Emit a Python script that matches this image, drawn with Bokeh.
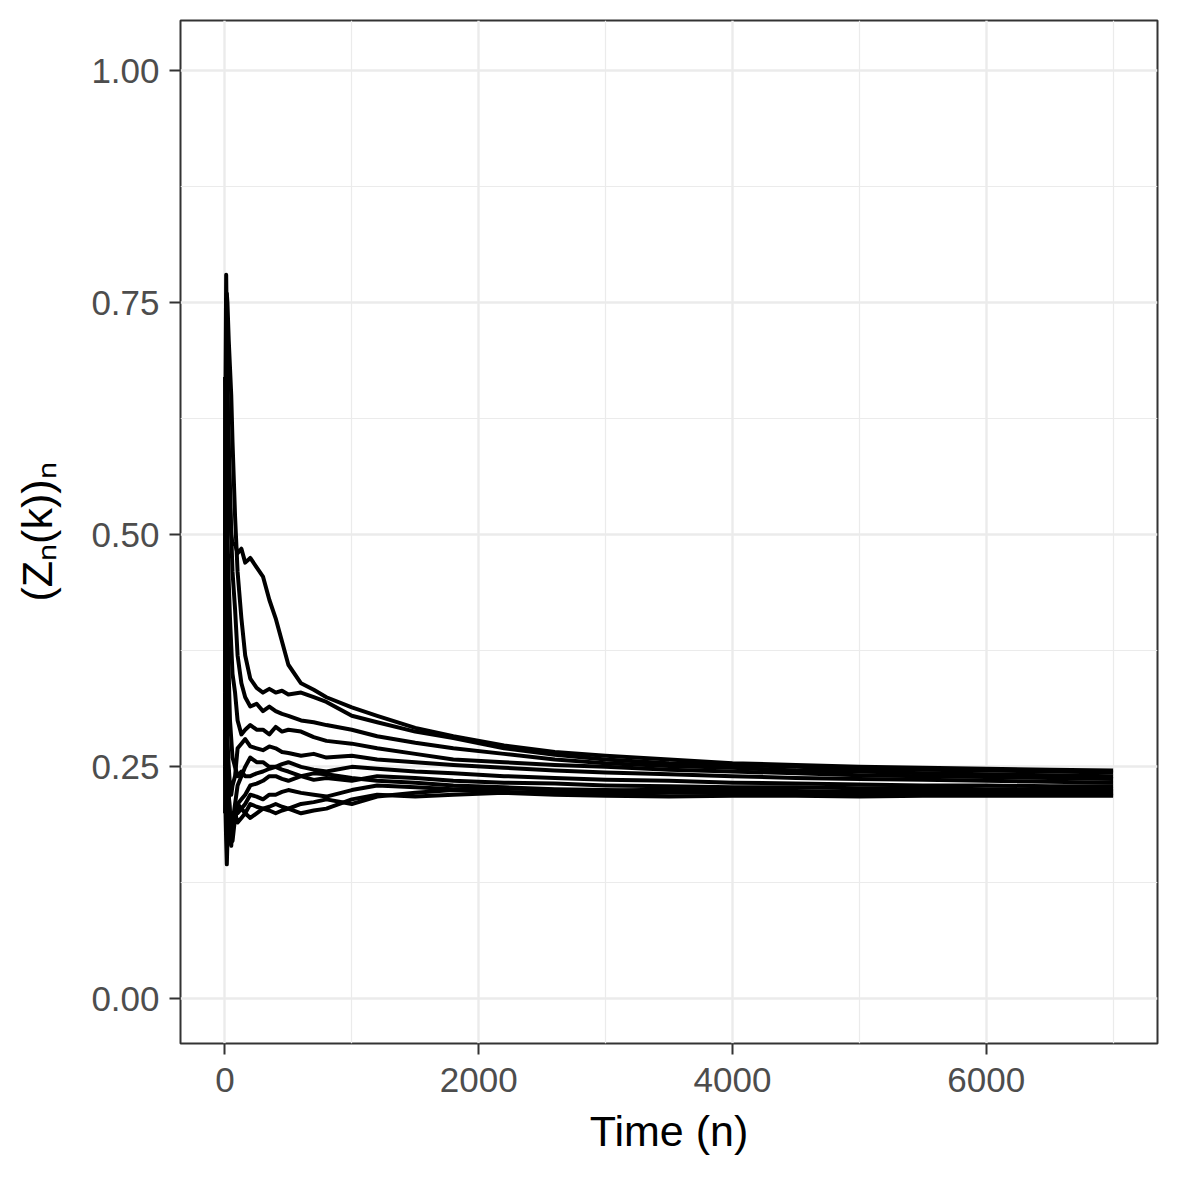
from bokeh.plotting import figure
from bokeh.models import Range1d, FixedTicker, PrintfTickFormatter
from bokeh.embed import file_html
from bokeh.resources import INLINE

# Time points (n)
T = [1, 5, 10, 15, 20, 30, 40, 50, 60, 80, 100, 130, 160, 200, 250, 300, 350, 400, 450, 500,
     600, 700, 800, 1000, 1200, 1500, 1800, 2200, 2600, 3000, 3500, 4000, 4500, 5000, 5500,
     6000, 6500, 7000]

S1 = [0.50, 0.67, 0.78, 0.72, 0.66, 0.58, 0.53, 0.50, 0.49, 0.49, 0.48, 0.485, 0.47, 0.475, 0.465,
      0.455, 0.43, 0.41, 0.385, 0.36, 0.34, 0.333, 0.325, 0.314, 0.305, 0.292, 0.283, 0.273, 0.266,
      0.262, 0.258, 0.254, 0.252, 0.250, 0.249, 0.248, 0.247, 0.246]
S2 = [0.33, 0.60, 0.70, 0.76, 0.75, 0.71, 0.68, 0.65, 0.60, 0.52, 0.46, 0.41, 0.37, 0.345, 0.335,
      0.33, 0.334, 0.33, 0.332, 0.328, 0.33, 0.325, 0.32, 0.305, 0.298, 0.288, 0.281, 0.270, 0.263,
      0.258, 0.254, 0.252, 0.250, 0.248, 0.247, 0.246, 0.245, 0.244]
S3 = [0.50, 0.62, 0.66, 0.70, 0.65, 0.60, 0.55, 0.50, 0.46, 0.42, 0.37, 0.34, 0.325, 0.315, 0.318,
      0.31, 0.315, 0.31, 0.307, 0.305, 0.30, 0.298, 0.295, 0.29, 0.283, 0.276, 0.27, 0.264, 0.258,
      0.254, 0.251, 0.249, 0.246, 0.245, 0.243, 0.242, 0.241, 0.240]
S4 = [0.25, 0.45, 0.60, 0.55, 0.50, 0.45, 0.41, 0.38, 0.35, 0.33, 0.30, 0.285, 0.29, 0.295, 0.29,
      0.29, 0.285, 0.293, 0.288, 0.29, 0.288, 0.282, 0.278, 0.275, 0.27, 0.264, 0.258, 0.255, 0.252,
      0.25, 0.247, 0.245, 0.243, 0.241, 0.240, 0.239, 0.238, 0.237]
S5 = [0.50, 0.40, 0.33, 0.30, 0.28, 0.25, 0.23, 0.22, 0.23, 0.24, 0.27, 0.275, 0.28, 0.272, 0.27,
      0.268, 0.272, 0.27, 0.266, 0.265, 0.262, 0.264, 0.26, 0.262, 0.258, 0.255, 0.252, 0.249, 0.246,
      0.244, 0.242, 0.24, 0.238, 0.237, 0.236, 0.235, 0.234, 0.233]
S6 = [0.25, 0.20, 0.17, 0.145, 0.17, 0.20, 0.19, 0.18, 0.19, 0.21, 0.23, 0.24, 0.25, 0.26, 0.255,
      0.255, 0.25, 0.25, 0.253, 0.255, 0.25, 0.247, 0.245, 0.25, 0.248, 0.245, 0.243, 0.24, 0.238,
      0.236, 0.235, 0.233, 0.232, 0.231, 0.23, 0.23, 0.229, 0.229]
S7 = [0.33, 0.33, 0.27, 0.22, 0.20, 0.18, 0.17, 0.185, 0.20, 0.19, 0.21, 0.215, 0.22, 0.23, 0.232,
      0.235, 0.24, 0.24, 0.237, 0.235, 0.24, 0.236, 0.238, 0.235, 0.24, 0.238, 0.235, 0.233, 0.232,
      0.23, 0.229, 0.228, 0.228, 0.227, 0.227, 0.226, 0.226, 0.226]
S8 = [0.50, 0.35, 0.25, 0.21, 0.19, 0.18, 0.17, 0.165, 0.19, 0.20, 0.20, 0.205, 0.21, 0.22, 0.218,
      0.215, 0.22, 0.22, 0.223, 0.225, 0.222, 0.22, 0.218, 0.225, 0.23, 0.228, 0.226, 0.227, 0.225,
      0.224, 0.226, 0.225, 0.224, 0.223, 0.224, 0.224, 0.224, 0.224]
S9 = [0.33, 0.25, 0.20, 0.21, 0.22, 0.22, 0.20, 0.19, 0.17, 0.195, 0.21, 0.205, 0.20, 0.21, 0.207,
      0.205, 0.203, 0.20, 0.203, 0.205, 0.21, 0.212, 0.215, 0.21, 0.218, 0.222, 0.225, 0.223, 0.222,
      0.221, 0.222, 0.222, 0.221, 0.222, 0.222, 0.222, 0.221, 0.222]
S10 = [0.20, 0.30, 0.35, 0.30, 0.25, 0.22, 0.20, 0.19, 0.185, 0.20, 0.19, 0.195, 0.20, 0.195, 0.20,
       0.205, 0.207, 0.21, 0.207, 0.205, 0.20, 0.203, 0.205, 0.215, 0.22, 0.218, 0.22, 0.222, 0.22,
       0.219, 0.218, 0.219, 0.219, 0.218, 0.219, 0.219, 0.219, 0.219]
S11 = [0.67, 0.55, 0.48, 0.42, 0.40, 0.35, 0.30, 0.28, 0.26, 0.25, 0.24, 0.245, 0.24, 0.24, 0.243,
       0.245, 0.248, 0.25, 0.247, 0.245, 0.24, 0.243, 0.242, 0.238, 0.235, 0.233, 0.23, 0.228, 0.226,
       0.225, 0.224, 0.223, 0.222, 0.221, 0.221, 0.220, 0.220, 0.220]

SERIES = [S1, S2, S3, S4, S5, S6, S7, S8, S9, S10, S11]

X_TICKS = [0, 2000, 4000, 6000]
X_MINOR = [1000, 3000, 5000, 7000]
Y_TICKS = [0.0, 0.25, 0.5, 0.75, 1.0]
Y_MINOR = [0.125, 0.375, 0.625, 0.875]

p = figure(output_backend="svg", toolbar_location=None,
           frame_width=977, frame_height=1023,
           min_border_left=180, min_border_right=15, min_border_top=20, min_border_bottom=129,
           x_range=Range1d(-350, 7350), y_range=Range1d(-0.048, 1.054),
           background_fill_color="white", border_fill_color="white")

for s in SERIES:
    p.line(T, s, line_color="black", line_width=4, line_join="round")

p.xaxis.ticker = FixedTicker(ticks=X_TICKS, minor_ticks=X_MINOR)
p.yaxis.ticker = FixedTicker(ticks=Y_TICKS, minor_ticks=Y_MINOR)
p.yaxis.formatter = PrintfTickFormatter(format="%.2f")

for ax in (p.xaxis, p.yaxis):
    ax.axis_line_color = None
    ax.major_tick_line_color = "#333333"
    ax.major_tick_line_width = 2
    ax.major_tick_out = 11
    ax.major_tick_in = 0
    ax.minor_tick_line_color = None
    ax.major_label_text_font = "Liberation Sans"
    ax.major_label_text_font_size = "35px"
    ax.major_label_text_color = "#4D4D4D"
    ax.axis_label_text_font = "Liberation Sans"
    ax.axis_label_text_font_size = "43px"
    ax.axis_label_text_font_style = "normal"
    ax.axis_label_text_color = "black"

p.xaxis.axis_label = "Time (n)"
p.yaxis.axis_label = "(Zₙ(k))ₙ"
p.xaxis.major_label_standoff = 13
p.yaxis.major_label_standoff = 10
p.xaxis.axis_label_standoff = 12
p.yaxis.axis_label_standoff = 27

for g in (p.xgrid, p.ygrid):
    g.grid_line_color = "#EBEBEB"
    g.grid_line_width = 2.4
    g.minor_grid_line_color = "#EBEBEB"
    g.minor_grid_line_width = 1.2

p.outline_line_color = "#333333"
p.outline_line_width = 2
p.outline_line_alpha = 1

open("out.html", "w").write(file_html(p, INLINE))
